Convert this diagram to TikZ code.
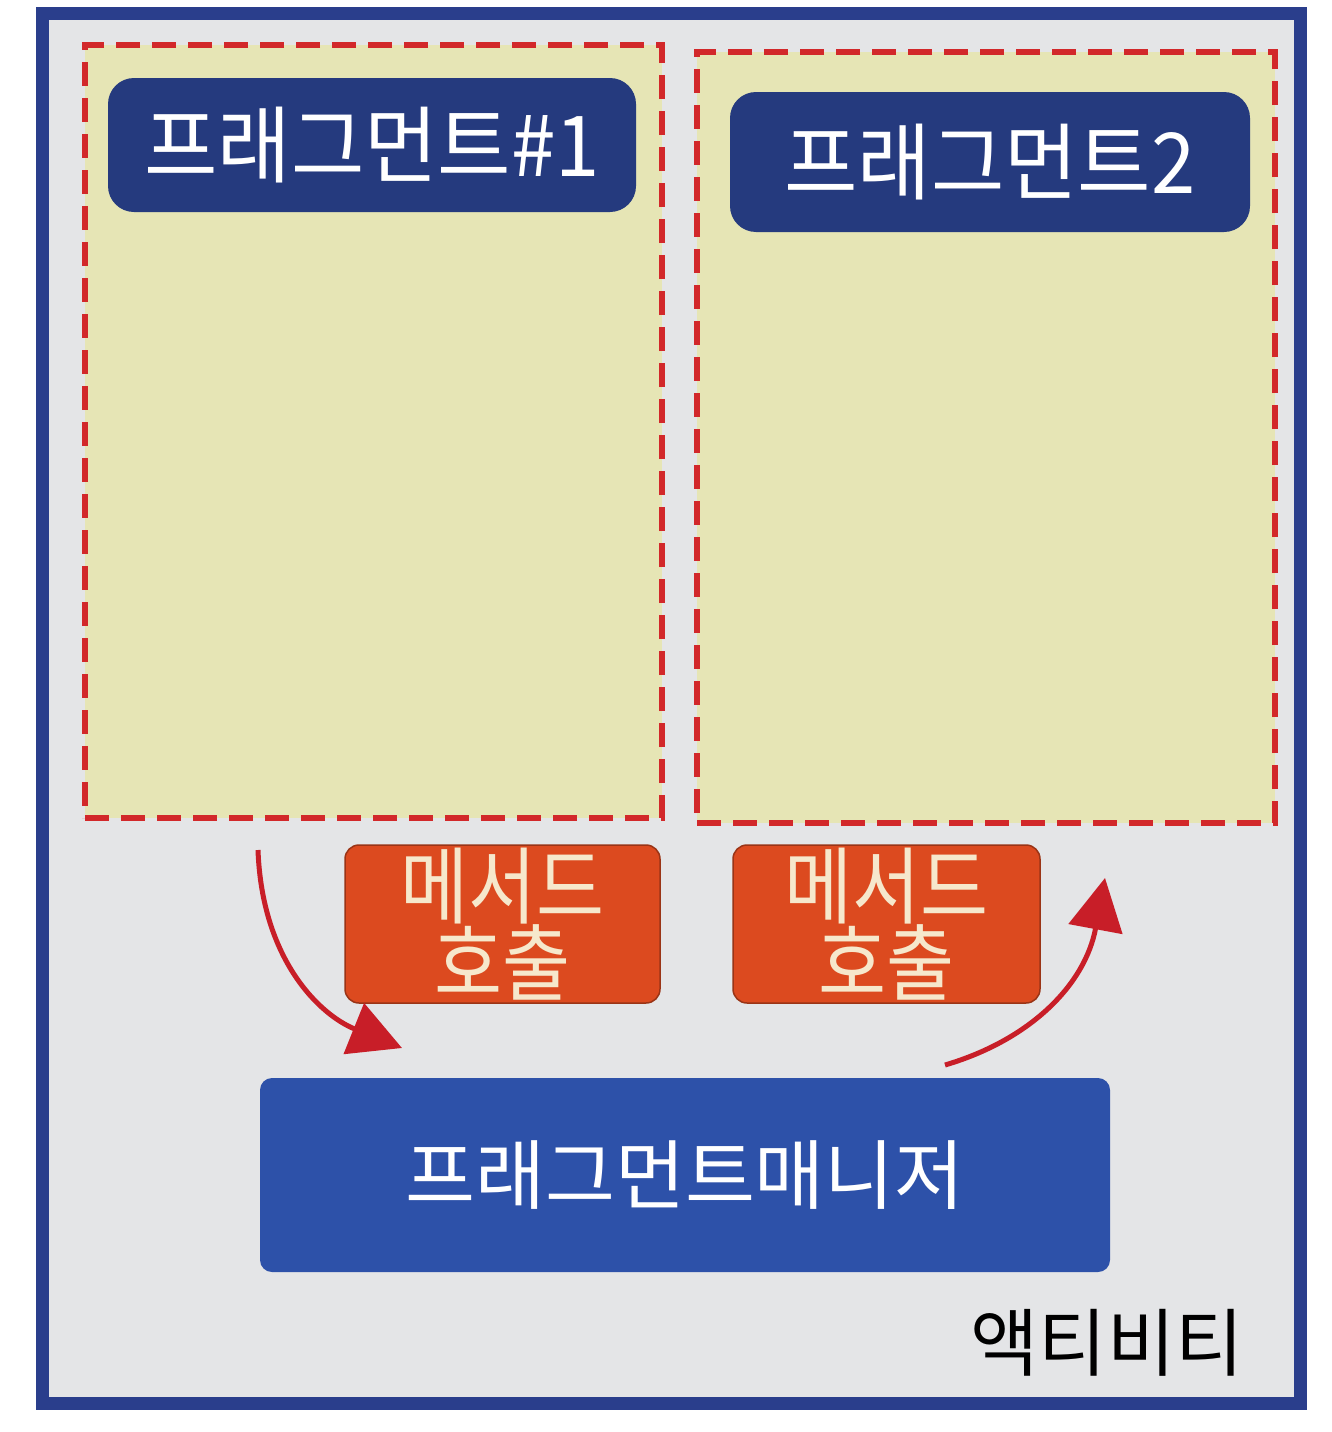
\documentclass[tikz,border=0pt]{standalone}
\usepackage{fontspec}
\usepackage{graphicx}
\setmainfont{Noto Sans CJK KR}
\usetikzlibrary{arrows.meta}
\definecolor{frameblue}{HTML}{2A3E8C}
\definecolor{bggrey}{HTML}{E4E5E7}
\definecolor{fragyellow}{HTML}{E6E5B5}
\definecolor{dashred}{HTML}{D2282A}
\definecolor{titlenavy}{HTML}{253A7E}
\definecolor{mgrblue}{HTML}{2D51A9}
\definecolor{methodorange}{HTML}{DC4A1F}
\definecolor{creamtext}{HTML}{F6E8CC}
\definecolor{arrowred}{HTML}{C81E28}
\newcommand{\narrowtext}[2]{\scalebox{#1}[1]{#2}}
\tikzset{
  fragbox/.style={draw=dashred, fill=fragyellow, line width=6pt, dash pattern=on 24pt off 12pt, inner sep=0pt},
  titlebox/.style={fill=titlenavy, rounded corners=26pt, inner sep=0pt, text=white, font=\fontsize{84}{90}\selectfont},
  methodbox/.style={fill=methodorange, draw=methodorange!70!black, line width=1.5pt, rounded corners=14pt, inner sep=0pt, text=creamtext, align=center, font=\fontsize{84}{68}\selectfont},
  mgrbox/.style={fill=mgrblue, rounded corners=12pt, inner sep=0pt, text=white, font=\fontsize{76}{84}\selectfont},
  callarrow/.style={draw=arrowred, line width=5pt, -{Triangle[length=52pt,width=54pt]}},
}
\begin{document}
\begin{tikzpicture}[x=1pt,y=-1pt]
\useasboundingbox (0,0) rectangle (1332,1432);
\fill[white] (0,0) rectangle (1332,1432);
\node[draw=frameblue, line width=13pt, fill=bggrey, inner sep=0pt, minimum width=1258pt, minimum height=1390pt] (act) at (671,708) {};
\node[font=\fontsize{74}{80}\selectfont, text=black] (actlabel) at (1107,1343) {액티비티};
\node[fragbox, minimum width=577pt, minimum height=773pt] (frag1) at (373.5,431.5) {};
\node[fragbox, minimum width=578pt, minimum height=771pt] (frag2) at (986,437.5) {};
\node[titlebox, minimum width=528pt, minimum height=134pt] (title1) at (372,145) {\narrowtext{0.95}{프래그먼트\#1}};
\node[titlebox, minimum width=520pt, minimum height=140pt] (title2) at (990,162) {\narrowtext{0.95}{프래그먼트2}};
\node[methodbox, minimum width=315pt, minimum height=158pt] (method1) at (502.5,924) {\narrowtext{0.88}{메서드}\\\narrowtext{0.88}{호출}};
\node[methodbox, minimum width=307pt, minimum height=158pt] (method2) at (886.5,924) {\narrowtext{0.88}{메서드}\\\narrowtext{0.88}{호출}};
\node[mgrbox, minimum width=850pt, minimum height=194pt] (mgr) at (685,1175) {프래그먼트매니저};
\coordinate (a1s) at (258,850);
\coordinate (a1e) at (402,1048);
\coordinate (a2s) at (945,1065);
\coordinate (a2e) at (1105,878);
\draw[callarrow] (a1s) .. controls (262,960) and (320,1015) .. (a1e);
\draw[callarrow] (a2s) .. controls (1030,1040) and (1085,985) .. (a2e);
\end{tikzpicture}
\end{document}
